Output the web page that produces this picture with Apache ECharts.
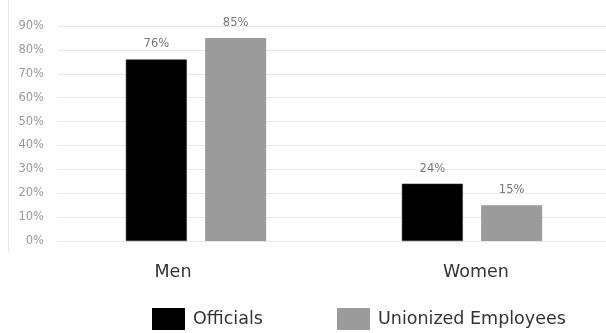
<!DOCTYPE html>
<html><head><meta charset="utf-8">
<script src="https://cdn.jsdelivr.net/npm/echarts@6/dist/echarts.min.js"></script>
<style>html,body{margin:0;padding:0;background:#fff;overflow:hidden}#c{width:610px;height:333px}</style>
</head><body><div id="c"></div>
<script>
const categories = ['Men', 'Women'];
const officials = [76, 24];
const unionized = [85, 15];
const yTicks = [0, 10, 20, 30, 40, 50, 60, 70, 80, 90];

const FONT = 'DejaVu Sans';
const legendText = {fontSize: 17.5, color: '#333', fontFamily: FONT, padding: [0, 0, 0, 3]};
const chart = echarts.init(document.getElementById('c'));
chart.setOption({
  animation: false,
  grid: {left: 58, right: 0, top: 26, bottom: 92},
  graphic: [{type: 'line', shape: {x1: 8.5, y1: 0, x2: 8.5, y2: 252}, style: {stroke: '#e6e6e6', lineWidth: 1}}],
  legend: [
    {left: 147, top: 303, itemWidth: 33, itemHeight: 22, icon: 'rect', itemStyle: {borderWidth: 0}, textStyle: legendText, data: ['Officials']},
    {left: 332, top: 303, itemWidth: 33, itemHeight: 22, icon: 'rect', itemStyle: {borderWidth: 0}, textStyle: legendText, data: ['Unionized Employees']}
  ],
  xAxis: {
    type: 'category',
    data: [
      {value: categories[0], textStyle: {padding: [0, 46, 0, 0]}},
      {value: categories[1], textStyle: {padding: [0, 0, 0, 8]}}
    ],
    axisLine: {show: false}, axisTick: {show: false},
    axisLabel: {fontSize: 17.5, color: '#333', margin: 22, fontFamily: FONT}
  },
  yAxis: {
    type: 'value', min: yTicks[0], max: yTicks[yTicks.length - 1], interval: 10,
    axisLabel: {formatter: '{value}%', fontSize: 11.5, color: '#999', margin: 14, fontFamily: FONT},
    splitLine: {lineStyle: {color: '#e8e8e8'}},
    axisLine: {show: false}, axisTick: {show: false}
  },
  series: [
    {name: 'Officials', type: 'bar', data: officials, barWidth: 61, barGap: '30%',
     itemStyle: {color: '#000', borderColor: '#333', borderWidth: 0.5},
     label: {show: true, position: 'top', formatter: '{c}%', fontSize: 11.5, color: '#777', distance: 9, fontFamily: FONT}},
    {name: 'Unionized Employees', type: 'bar', data: unionized, barWidth: 61,
     itemStyle: {color: '#9b9b9b'},
     label: {show: true, position: 'top', formatter: '{c}%', fontSize: 11.5, color: '#777', distance: 9, fontFamily: FONT}}
  ]
});
</script></body></html>
